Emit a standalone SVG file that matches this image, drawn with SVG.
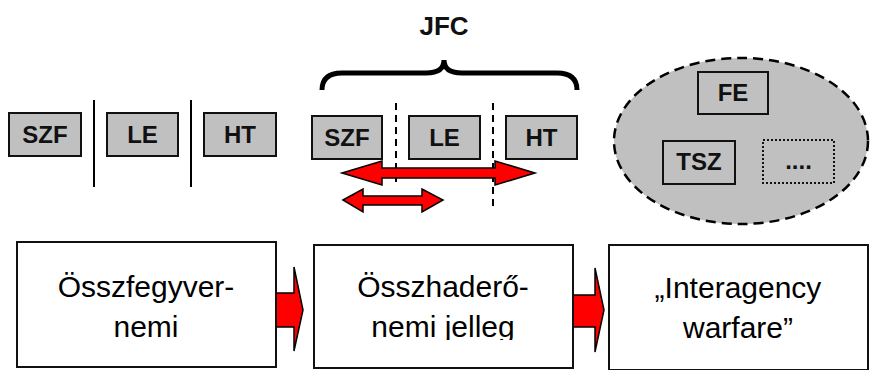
<svg xmlns="http://www.w3.org/2000/svg" width="870" height="370" viewBox="0 0 870 370">
<style>
.sb{fill:#c0c0c0;stroke:#111;stroke-width:2}
.wb{fill:none;stroke:#111;stroke-width:2}
.big{fill:#fff;stroke:#111;stroke-width:2}
.lbl{font-family:"Liberation Sans",Arial,sans-serif;font-weight:bold;font-size:24px;fill:#111;text-anchor:middle}
.txt{font-family:"Liberation Sans",Arial,sans-serif;font-size:30px;fill:#000;text-anchor:middle}
.arr{fill:#ff0000;stroke:#000;stroke-width:1.5;stroke-linejoin:miter}
.sep{stroke:#000;stroke-width:2}
.dsep{stroke:#000;stroke-width:2;stroke-dasharray:7 5}
</style>
<defs>
<clipPath id="clip2"><rect x="314" y="245" width="259" height="95"/></clipPath>
</defs>
<text x="444" y="35" class="lbl" style="font-size:26px">JFC</text>
<path d="M322 90 Q322 73 342 73 L426 73 Q444 73 444 60 Q444 73 462 73 L557 73 Q577 73 577 90" fill="none" stroke="#000" stroke-width="5"/>
<g id="left-group">
<line class="sep" x1="94" y1="100" x2="94" y2="187"/>
<line class="sep" x1="191" y1="100" x2="191" y2="187"/>
<g id="szf1"><rect class="sb" x="9" y="113" width="72" height="43"/><text class="lbl" x="45" y="143">SZF</text></g>
<g id="le1"><rect class="sb" x="107" y="113" width="71" height="43"/><text class="lbl" x="142.5" y="143">LE</text></g>
<g id="ht1"><rect class="sb" x="204" y="113" width="72" height="43"/><text class="lbl" x="240" y="143">HT</text></g>
</g>
<g id="jfc-group">
<line class="dsep" x1="396" y1="103" x2="396" y2="187"/>
<line class="dsep" x1="493" y1="103" x2="493" y2="207"/>
<g id="szf2"><rect class="sb" x="312" y="116" width="70" height="43"/><text class="lbl" x="347" y="146">SZF</text></g>
<g id="le2"><rect class="sb" x="409" y="116" width="71" height="43"/><text class="lbl" x="444.5" y="146">LE</text></g>
<g id="ht2"><rect class="sb" x="506" y="116" width="71" height="43"/><text class="lbl" x="541.5" y="146">HT</text></g>
</g>
<g id="connectors">
<polygon class="arr" points="342,173 382,161 382,168 495,168 495,161 535,173 495,185 495,178 382,178 382,185"/>
<polygon class="arr" points="343,200 363,189 363,196 422,196 422,189 443,200 422,212 422,205 363,205 363,212"/>
<polygon class="arr" points="276,293 294,293 294,267 303,310 294,351 294,327 276,327"/>
<polygon class="arr" points="573,295 595,295 595,268 604,310 595,352 595,327 573,327"/>
</g>
<g id="agency">
<ellipse cx="741" cy="141" rx="127" ry="83" fill="#c0c0c0" stroke="#000" stroke-width="2.5" stroke-dasharray="10 6"/>
<g id="fe"><rect class="wb" x="698" y="72" width="70" height="42"/><text class="lbl" x="733" y="101">FE</text></g>
<g id="tsz"><rect class="wb" x="663" y="141" width="72" height="43"/><text class="lbl" x="699" y="170">TSZ</text></g>
<g id="dots"><rect x="763" y="140" width="71" height="43" fill="none" stroke="#111" stroke-width="2" stroke-dasharray="2 2"/><text class="lbl" x="798.5" y="169">....</text></g>
</g>
<g id="box1"><rect class="big" x="17" y="242" width="259" height="125"/><text class="txt" x="146" y="297">Összfegyver-</text><text class="txt" x="146" y="337">nemi</text></g>
<g id="box2"><rect class="big" x="314" y="245" width="259" height="123"/><g clip-path="url(#clip2)"><text class="txt" x="443" y="297">Összhaderő-</text><text class="txt" x="443" y="337">nemi jelleg</text></g></g>
<g id="box3"><rect class="big" x="609" y="245" width="259" height="125"/><text class="txt" x="738" y="298">„Interagency</text><text class="txt" x="738" y="338">warfare”</text></g>
</svg>
